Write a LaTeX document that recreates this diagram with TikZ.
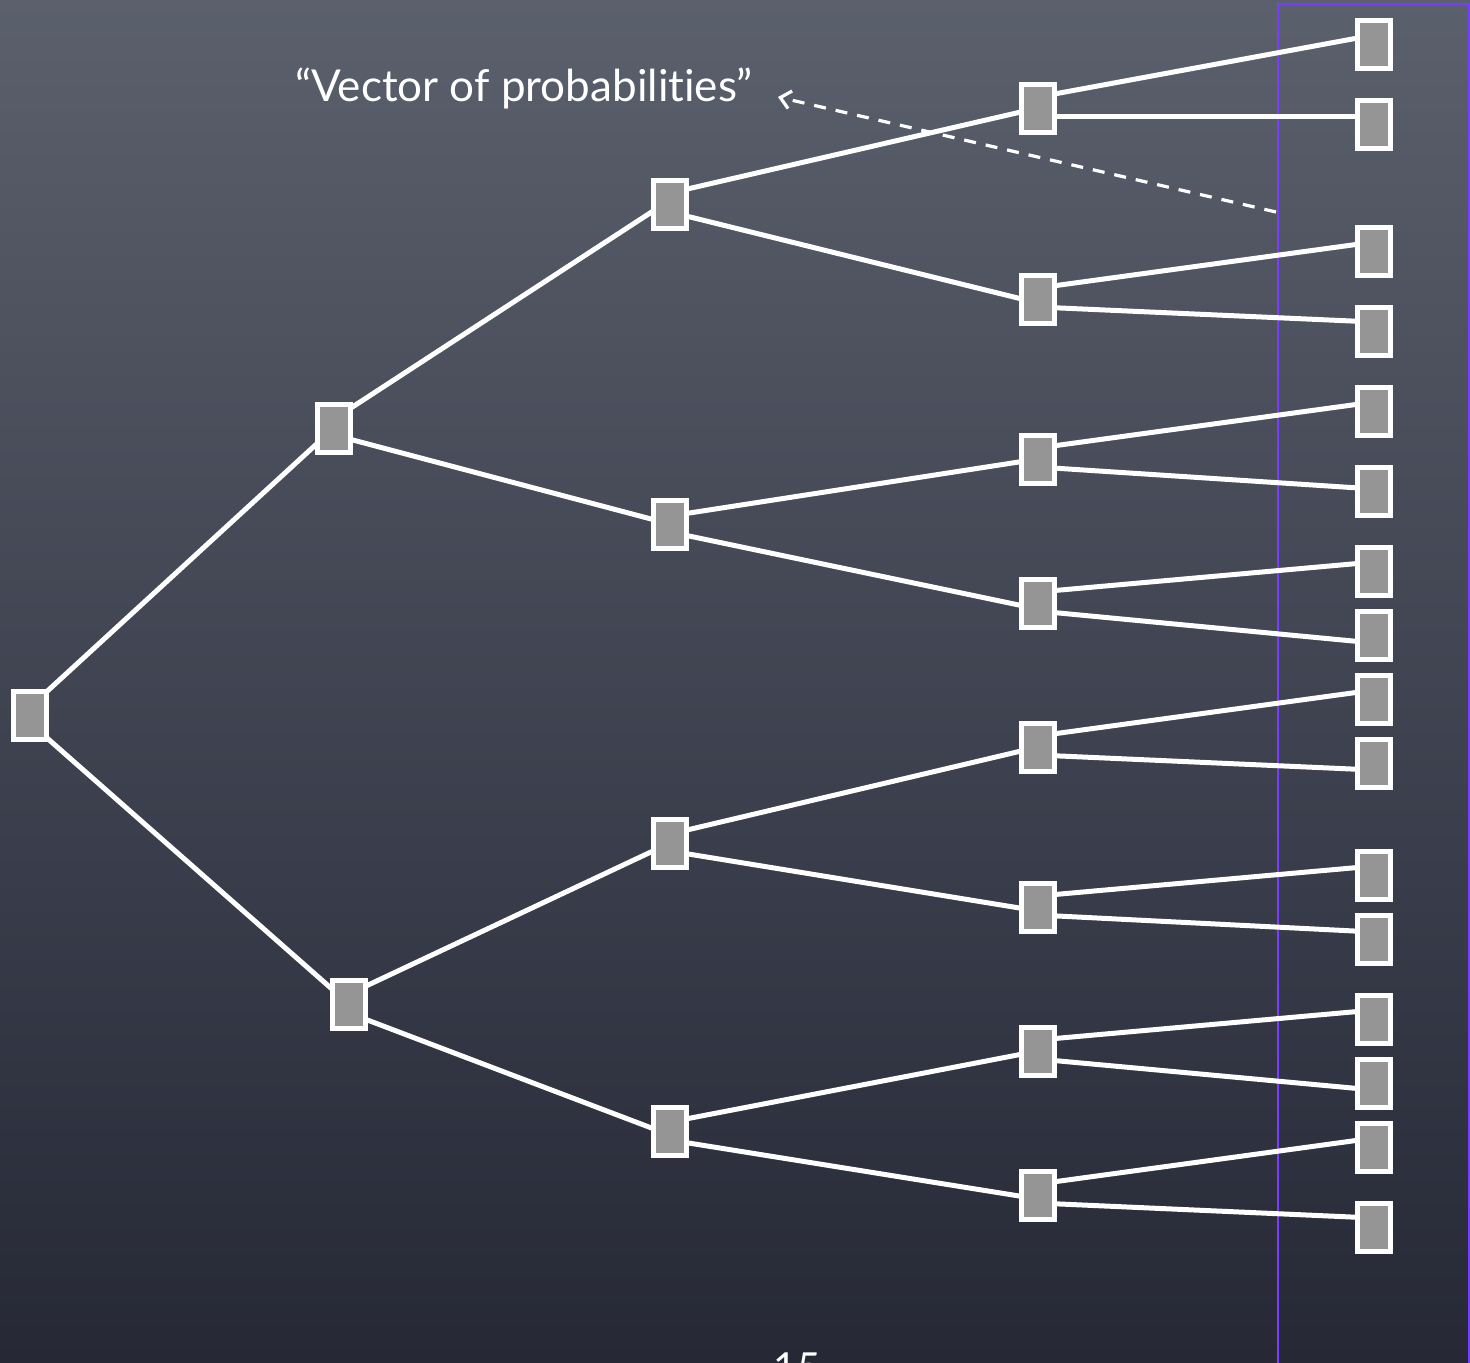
\documentclass[tikz,border=0pt]{standalone}
\usepackage{fontspec}
\setmainfont[Ligatures=NoCommon]{Lato}
\usetikzlibrary{arrows.meta}
\pgfdeclarelayer{board}
\pgfdeclarelayer{wires}
\pgfsetlayers{board,wires,main}
\definecolor{boardtop}{HTML}{5B606D}
\definecolor{boardmid}{HTML}{454A5A}
\definecolor{boardbot}{HTML}{262836}
\definecolor{boxgray}{HTML}{959595}
\definecolor{frameviolet}{HTML}{7A3CFF}
\tikzset{
  box/.style={draw=white, fill=boxgray, line width=2.5pt, inner sep=0pt,
    minimum width=16.5pt, minimum height=24pt},
  edge/.style={draw=white, line width=2.5pt},
  hint/.style={draw=white, line width=1.6pt, dash pattern=on 6pt off 5pt,
    -{Straight Barb[length=5pt,width=9pt,line width=1.6pt]}},
}
% ps / cs: vertical offsets of the wire ends at parent and child
\newcommand\wire[4]{\draw[edge] ([yshift=#2]#1.center) -- ([yshift=#4]#3.center);}
\begin{document}
\begin{tikzpicture}[x=0.5pt, y=-0.5pt]
\useasboundingbox (0,0) rectangle (1470,1362);
\begin{pgfonlayer}{board}
  \clip (0,0) rectangle (1470,1362);
  \shade[top color=boardtop, middle color=boardmid, bottom color=boardbot]
    (0,0) rectangle (1470,1362);
  \draw[frameviolet, line width=1.1pt] (1278,1400) -- (1278,4) -- (1469,4) -- (1469,1400);
  \node[anchor=north, text=white, font=\fontsize{20pt}{24pt}\selectfont, inner sep=0pt]
    (page) at (797,1352) {15};
\end{pgfonlayer}

% root and inner levels
\node[box] (r) at (30,715) {};
\node[box] (a) at (334,428) {};
\node[box] (b) at (349,1004) {};
\node[box] (aa) at (670,204) {};
\node[box] (ab) at (670,524) {};
\node[box] (ba) at (670,843) {};
\node[box] (bb) at (670,1131) {};
\foreach \n/\y in {1/108,2/299,3/459,4/603,5/747,6/907,7/1051,8/1195}
  \node[box] (c\n) at (1038,\y) {};
% leaves
\foreach \n/\y in {1/44,2/124,3/251,4/331,5/411,6/491,7/571,8/635,
                   9/699,10/763,11/875,12/939,13/1019,14/1083,15/1147,16/1227}
  \node[box] (l\n) at (1374,\y) {};

\begin{pgfonlayer}{wires}
  \wire{r}{4pt}{a}{0pt}
  \wire{r}{-4pt}{b}{0pt}
  \wire{a}{4.5pt}{aa}{2pt}
  \wire{a}{-3.5pt}{ab}{0pt}
  \wire{b}{5pt}{ba}{0pt}
  \wire{b}{-4.5pt}{bb}{-2pt}
  \wire{aa}{5.5pt}{c1}{0pt}
  \wire{aa}{-4pt}{c2}{-2pt}
  \wire{ab}{4pt}{c3}{0pt}
  \wire{ab}{-4pt}{c4}{-3pt}
  \wire{ba}{4.5pt}{c5}{0pt}
  \wire{ba}{-4pt}{c6}{-2pt}
  \wire{bb}{4.5pt}{c7}{0pt}
  \wire{bb}{-4.5pt}{c8}{-2pt}
  % last level to the leaves
  \wire{c1}{5.5pt}{l1}{4.5pt}
  \wire{c1}{-4pt}{l2}{4pt}
  \wire{c2}{5.5pt}{l3}{4.5pt}
  \wire{c2}{-4pt}{l4}{4.5pt}
  \wire{c3}{5.5pt}{l5}{4.5pt}
  \wire{c3}{-4pt}{l6}{1pt}
  \wire{c4}{5.5pt}{l7}{4.5pt}
  \wire{c4}{-4pt}{l8}{-4pt}
  \wire{c5}{5.5pt}{l9}{4.5pt}
  \wire{c5}{-4pt}{l10}{-3.5pt}
  \wire{c6}{5.5pt}{l11}{4.5pt}
  \wire{c6}{-4pt}{l12}{3.5pt}
  \wire{c7}{5.5pt}{l13}{4.5pt}
  \wire{c7}{-4pt}{l14}{-3.5pt}
  \wire{c8}{5.5pt}{l15}{4.5pt}
  \wire{c8}{-4pt}{l16}{4.5pt}
\end{pgfonlayer}

% label for the violet column
\node[text=white, font=\fontsize{22pt}{26pt}\selectfont, inner sep=0pt]
  (vec) at (524,88) {“Vector of probabilities”};
\coordinate (tail) at (1276,212);
\coordinate (tip) at (778,97);
\draw[hint] (tail) -- (tip);
\end{tikzpicture}
\end{document}
